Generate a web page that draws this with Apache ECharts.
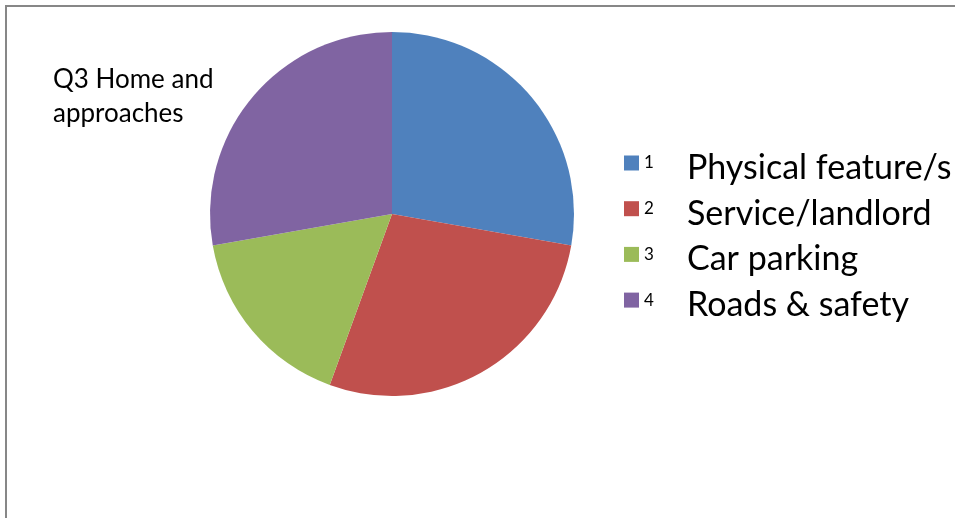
<!DOCTYPE html>
<html><head><meta charset="utf-8">
<script src="https://cdn.jsdelivr.net/npm/echarts@6/dist/echarts.min.js"></script>
<style>html,body{margin:0;padding:0;background:#fff}#c{width:955px;height:518px}</style>
</head><body><div id="c"></div>
<script>
const title = "Q3 Home and\napproaches";
const codes = ["1", "2", "3", "4"];
const categories = ["Physical feature/s", "Service/landlord", "Car parking", "Roads & safety"];
const values = [5, 5, 3, 5];
const colors = ["#4F81BD", "#C0504D", "#9BBB59", "#8064A2"];

const FONT = "Lato";
const chart = echarts.init(document.getElementById('c'));
const data = categories.map((c, i) => ({ name: c, value: values[i], code: codes[i] }));
chart.setOption({
  animation: false,
  color: colors,
  graphic: [{
    type: 'rect', shape: { x: 6, y: 6, width: 1200, height: 800 },
    style: { fill: 'none', stroke: '#878787', lineWidth: 2 }, silent: true
  }],
  title: {
    text: title, left: 53, top: 63, padding: 0,
    textStyle: { fontFamily: FONT, fontSize: 26, fontWeight: 'normal', color: '#000', lineHeight: 34 }
  },
  legend: {
    orient: 'vertical', left: 624, top: 141, padding: 0,
    icon: 'rect', itemWidth: 15, itemHeight: 15, itemGap: 1.7, itemStyle: { borderWidth: 0 },
    formatter: function (name) {
      const i = categories.indexOf(name);
      return '{n|' + codes[i] + '}{t|' + name + '}';
    },
    textStyle: {
      fontFamily: FONT, color: '#000',
      rich: {
        n: { fontFamily: FONT, fontSize: 17, width: 43, color: '#000' },
        t: { fontFamily: FONT, fontSize: 34, color: '#000', lineHeight: 34, padding: [10, 0, 0, 0] }
      }
    },
    data: categories
  },
  series: [{
    type: 'pie', center: [392, 214], radius: 182, startAngle: 90, clockwise: true,
    label: { show: false }, labelLine: { show: false },
    itemStyle: { borderWidth: 0 },
    emphasis: { disabled: true },
    data: data
  }]
});
</script></body></html>
